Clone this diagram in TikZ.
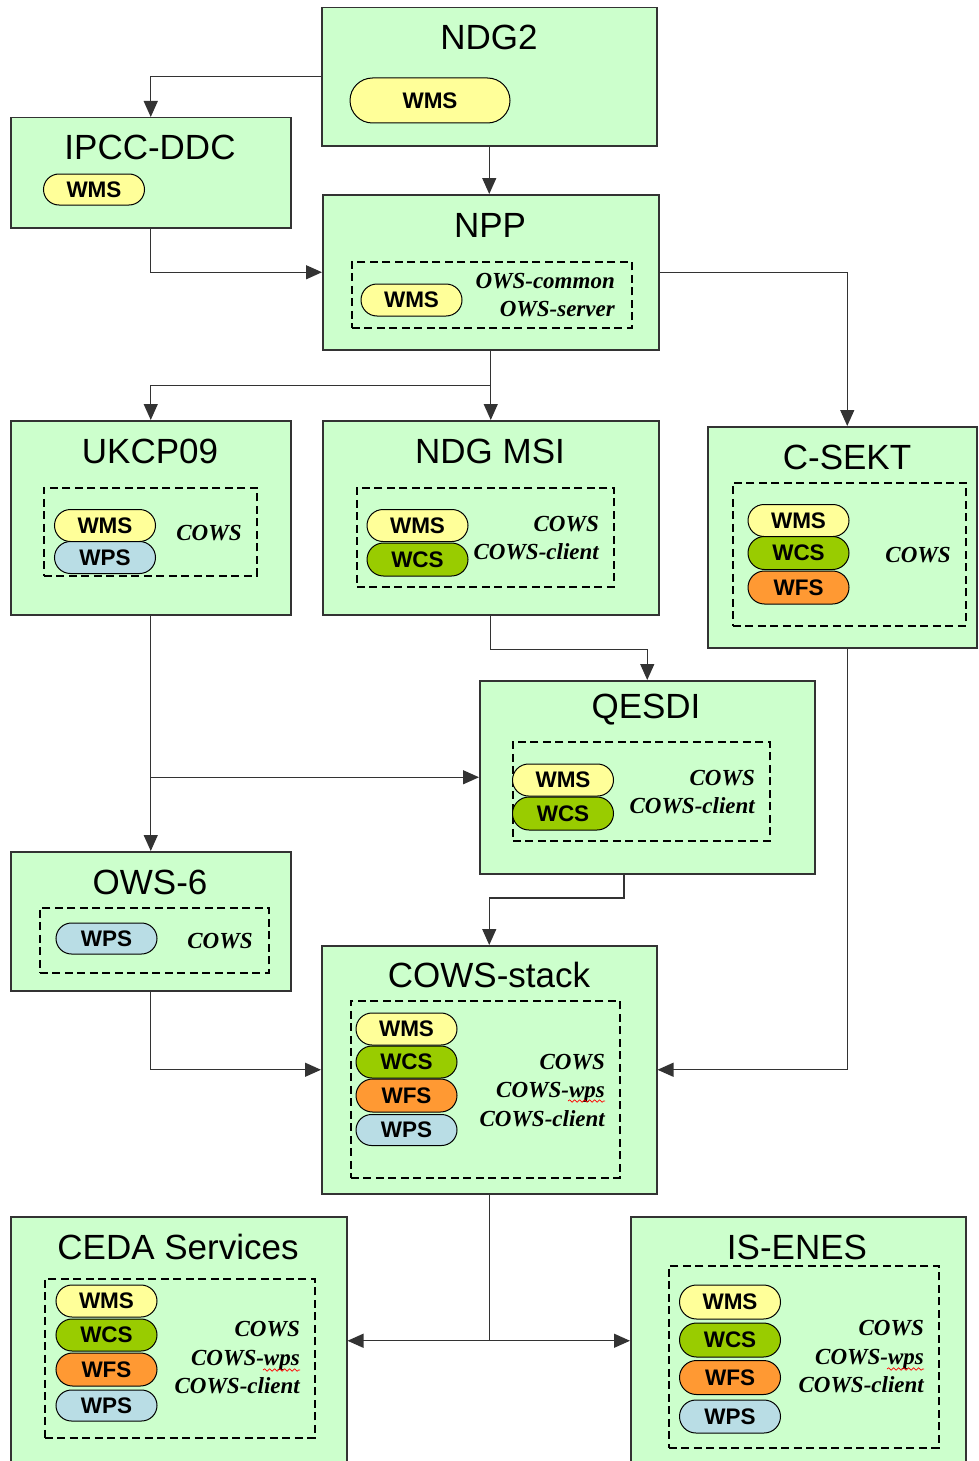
\documentclass[tikz,border=0pt]{standalone}
\usepackage{fontspec}
\setmainfont{Liberation Sans}
\newfontfamily\cowsfont{Liberation Serif}
\usetikzlibrary{arrows.meta,shapes.misc,decorations.pathmorphing}
\definecolor{projgreen}{HTML}{CCFFCC}
\definecolor{wmscol}{HTML}{FFFF99}
\definecolor{wcscol}{HTML}{99CC00}
\definecolor{wfscol}{HTML}{FF9933}
\definecolor{wpscol}{HTML}{B9DDE5}
\definecolor{linecol}{HTML}{333333}
\newcommand{\pw}{101pt}
\newcommand{\ph}{32pt}

\begin{document}
\begin{tikzpicture}[x=1pt,y=-1pt,
    proj/.style={draw=linecol, rectangle, anchor=north west, fill=projgreen, line width=1.5pt, inner sep=0pt},
    inner/.style={draw=black, dashed, dash pattern=on 8pt off 4.5pt, rectangle, anchor=north west, line width=1.5pt, inner sep=0pt},
    title/.style={font=\fontsize{35}{40}\selectfont},
    pill/.style={draw=black, rounded rectangle, line width=1pt, minimum width=\pw, minimum height=\ph, inner sep=0pt, font=\fontsize{22.5}{24}\bfseries\selectfont},
    cows/.style={align=right, font=\fontsize{23}{28.5}\cowsfont\bfseries\itshape\selectfont, inner sep=0pt},
    conn/.style={draw=linecol, line width=1.3pt, -{Triangle[length=16pt, width=14pt]}},
    link/.style={draw=linecol, line width=1.3pt},
    spell/.style={draw=red, line width=0.7pt, decorate, decoration={snake, amplitude=1.2pt, segment length=5pt}}]
    \useasboundingbox (0,0) rectangle (979,1461);

    % Top row
    \node[proj, minimum width=335pt, minimum height=138pt] (ndg2) at (321,7) {};
    \node[title] (ndg2-title) at (489,37) {NDG2};
    \node[pill, fill=wmscol, minimum width=160pt, minimum height=45pt] (ndg2-wms) at (430,100.5) {WMS};

    \node[proj, minimum width=280pt, minimum height=110pt] (ipcc) at (10,117) {};
    \node[title] (ipcc-title) at (150,147) {IPCC-DDC};
    \node[pill, fill=wmscol, minimum height=31pt] (ipcc-wms) at (94,189.5) {WMS};

    \node[proj, minimum width=336pt, minimum height=155pt] (npp) at (322,194) {};
    \node[title] (npp-title) at (490,225) {NPP};
    \node[inner, minimum width=280pt, minimum height=66pt] (npp-inner) at (351,261) {};
    \node[pill, fill=wmscol] (npp-wms) at (411.5,300) {WMS};
    \node[cows, anchor=east] (npp-libs) at (615,295) {OWS-common\\OWS-server};

    % Second row
    \node[proj, minimum width=280pt, minimum height=194pt] (ukcp) at (10,420) {};
    \node[title] (ukcp-title) at (150,451) {UKCP09};
    \node[inner, minimum width=213pt, minimum height=88pt] (ukcp-inner) at (43,487) {};
    \node[pill, fill=wmscol] (ukcp-wms) at (105,525.5) {WMS};
    \node[pill, fill=wpscol] (ukcp-wps) at (105,557.5) {WPS};
    \node[cows] (ukcp-libs) at (209,533) {COWS};

    \node[proj, minimum width=336pt, minimum height=194pt] (ndgmsi) at (322,420) {};
    \node[title] (ndgmsi-title) at (490,451) {NDG MSI};
    \node[inner, minimum width=257pt, minimum height=99pt] (ndgmsi-inner) at (356,487) {};
    \node[pill, fill=wmscol] (ndgmsi-wms) at (417.5,525.5) {WMS};
    \node[pill, fill=wcscol, minimum height=33pt] (ndgmsi-wcs) at (417.5,559.5) {WCS};
    \node[cows, anchor=east] (ndgmsi-libs) at (599,538) {COWS\\COWS-client};

    \node[proj, minimum width=269pt, minimum height=221pt] (csekt) at (707,426) {};
    \node[title] (csekt-title) at (847,457) {C-SEKT};
    \node[inner, minimum width=233pt, minimum height=143pt] (csekt-inner) at (732,482) {};
    \node[pill, fill=wmscol] (csekt-wms) at (798.5,520.5) {WMS};
    \node[pill, fill=wcscol, minimum height=33pt] (csekt-wcs) at (798.5,553) {WCS};
    \node[pill, fill=wfscol, minimum height=33pt] (csekt-wfs) at (798.5,587.5) {WFS};
    \node[cows] (csekt-libs) at (918,555) {COWS};

    % Middle
    \node[proj, minimum width=335pt, minimum height=193pt] (qesdi) at (479,680) {};
    \node[title] (qesdi-title) at (646,710) {QESDI};
    \node[inner, minimum width=257pt, minimum height=99pt] (qesdi-inner) at (512,741) {};
    \node[pill, fill=wmscol] (qesdi-wms) at (563,780) {WMS};
    \node[pill, fill=wcscol, minimum height=33pt] (qesdi-wcs) at (563,813.5) {WCS};
    \node[cows, anchor=east] (qesdi-libs) at (755,792) {COWS\\COWS-client};

    \node[proj, minimum width=280pt, minimum height=139pt] (ows6) at (10,851) {};
    \node[title] (ows6-title) at (150,882) {OWS-6};
    \node[inner, minimum width=229pt, minimum height=65pt] (ows6-inner) at (39,907) {};
    \node[pill, fill=wpscol, minimum height=31pt] (ows6-wps) at (106.5,938.5) {WPS};
    \node[cows] (ows6-libs) at (220,941) {COWS};

    \node[proj, minimum width=335pt, minimum height=248pt] (cows) at (321,945) {};
    \node[title] (cows-title) at (489,975) {COWS-stack};
    \node[inner, minimum width=269pt, minimum height=177pt] (cows-inner) at (350,1000) {};
    \node[pill, fill=wmscol] (cows-wms) at (406.5,1029) {WMS};
    \node[pill, fill=wcscol] (cows-wcs) at (406.5,1062) {WCS};
    \node[pill, fill=wfscol, minimum height=33pt] (cows-wfs) at (406.5,1095.5) {WFS};
    \node[pill, fill=wpscol, minimum height=31pt] (cows-wps) at (406.5,1130) {WPS};
    \node[cows, anchor=east] (cows-libs) at (605,1090.5) {COWS\\COWS-wps\\COWS-client};
    \draw[spell] (568,1101) -- (605,1101);

    % Bottom row
    \node[proj, minimum width=336pt, minimum height=248pt] (ceda) at (10,1216) {};
    \node[title] (ceda-title) at (178,1247) {CEDA Services};
    \node[inner, minimum width=270pt, minimum height=159pt] (ceda-inner) at (44,1278) {};
    \node[pill, fill=wmscol] (ceda-wms) at (106.5,1301) {WMS};
    \node[pill, fill=wcscol] (ceda-wcs) at (106.5,1335) {WCS};
    \node[pill, fill=wfscol, minimum height=33pt] (ceda-wfs) at (106.5,1369.5) {WFS};
    \node[pill, fill=wpscol, minimum height=31pt] (ceda-wps) at (106.5,1405.5) {WPS};
    \node[cows, anchor=east] (ceda-libs) at (300,1358) {COWS\\COWS-wps\\COWS-client};
    \draw[spell] (263,1370) -- (300,1370);

    \node[proj, minimum width=335pt, minimum height=248pt] (isenes) at (630,1216) {};
    \node[title] (isenes-title) at (797,1247) {IS-ENES};
    \node[inner, minimum width=270pt, minimum height=182pt] (isenes-inner) at (668,1265) {};
    \node[pill, fill=wmscol, minimum height=34pt] (isenes-wms) at (730,1302) {WMS};
    \node[pill, fill=wcscol, minimum height=34pt] (isenes-wcs) at (730,1340) {WCS};
    \node[pill, fill=wfscol, minimum height=34pt] (isenes-wfs) at (730,1377.5) {WFS};
    \node[pill, fill=wpscol, minimum height=33pt] (isenes-wps) at (730,1416.5) {WPS};
    \node[cows, anchor=east] (isenes-libs) at (924,1357) {COWS\\COWS-wps\\COWS-client};
    \draw[spell] (887,1369) -- (924,1369);

    % Connectors
    \path (npp.south) ++(0,35) coordinate (split1);
    \coordinate (split2) at (ukcp.south |- qesdi.west);
    \coordinate (split3) at (cows.south |- ceda.east);
    \coordinate (qesdi-out) at (624,873);

    \draw[conn] (ndg2.west) -| (ipcc.north);
    \draw[conn] (ndg2.south) -- (ndg2.south |- npp.north);
    \draw[conn] (ipcc.south) |- (npp.west);
    \draw[conn] (npp.east) -| ([xshift=5pt]csekt.north);
    \draw[link] (npp.south) -- (split1);
    \draw[conn] (split1) -- (split1 |- ndgmsi.north);
    \draw[conn] (split1) -| (ukcp.north);
    \draw[conn] (ndgmsi.south) -- ++(0,34) -| (qesdi.north);
    \draw[conn] (ukcp.south) -- (ows6.north);
    \draw[conn] (split2) -- (qesdi.west);
    \draw[conn] (qesdi-out) -- ++(0,25) -| (cows.north);
    \draw[conn] (ows6.south) |- (cows.west);
    \draw[conn] ([xshift=5pt]csekt.south) |- (cows.east);
    \draw[link] (cows.south) -- (split3);
    \draw[conn] (split3) -- (ceda.east);
    \draw[conn] (split3) -- (isenes.west);

\end{tikzpicture}
\end{document}
